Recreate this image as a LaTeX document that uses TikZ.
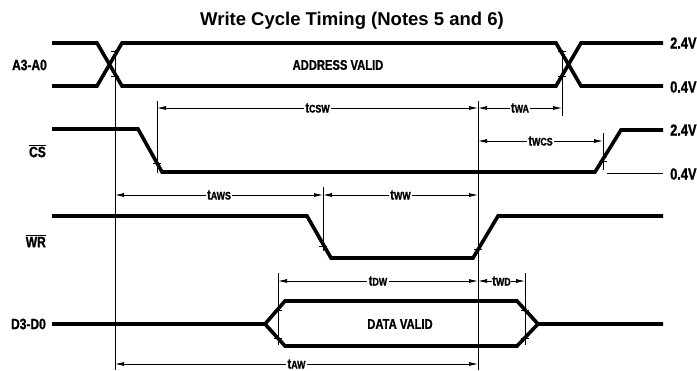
\documentclass[tikz,border=0pt]{standalone}
\usepackage{fontspec}
\setmainfont{Liberation Sans}
\newfontfamily\condfont[FakeStretch=0.8, BoldFeatures={FakeBold=1.2}]{Liberation Sans}
\usetikzlibrary{arrows.meta}
\newcommand{\tsub}[1]{t{\fontsize{11}{11}\selectfont #1}}
\tikzset{
  sig/.style={line width=3.6pt, line join=miter, line cap=butt},
  thin/.style={line width=0.8pt},
  dim/.style={line width=0.8pt, {Latex[length=9pt,width=4pt]}-{Latex[length=9pt,width=4pt]}},
  lab/.style={font=\condfont\bfseries\fontsize{14}{14}\selectfont, fill=white, inner sep=1.5pt},
  sname/.style={font=\condfont\bfseries\fontsize{15}{15}\selectfont, anchor=east, inner sep=0pt},
  volt/.style={font=\condfont\bfseries\fontsize{16}{16}\selectfont, anchor=west, inner sep=0pt},
  txt/.style={font=\condfont\bfseries\fontsize{14}{14}\selectfont, inner sep=0pt},
  tick/.style={line width=0.9pt}
}
\begin{document}
\begin{tikzpicture}[x=1pt,y=-1pt]
\useasboundingbox (0,0) rectangle (697,370);
% title
\node[font=\bfseries\fontsize{18.5}{18.5}\selectfont, inner sep=0pt] (title) at (352,21) {Write Cycle Timing (Notes 5 and 6)};
% signal names
\node[sname] (nA) at (47,65) {A3-A0};
\node[sname] (nCS) at (46,151) {$\overline{\mbox{\condfont\bfseries\fontsize{15}{15}\selectfont CS}}$};
\node[sname] (nWR) at (46,241) {$\overline{\mbox{\condfont\bfseries\fontsize{15}{15}\selectfont WR}}$};
\node[sname] (nD) at (46,324) {D3-D0};
% voltage labels
\node[volt] (v1) at (670,43) {2.4V};
\node[volt] (v2) at (670,87) {0.4V};
\node[volt] (v3) at (670,130) {2.4V};
\node[volt] (v4) at (670,174) {0.4V};
% signal A
\draw[sig] (52,43) -- (97,43) -- (122,86) -- (556,86) -- (581,43) -- (663,43);
\draw[sig] (52,86) -- (97,86) -- (122,43) -- (556,43) -- (581,86) -- (663,86);
\node[txt] (addr) at (338,65) {ADDRESS VALID};
% signal CS
\draw[sig] (52,129) -- (138,129) -- (162,172) -- (595,172) -- (621,130) -- (663,130);
\coordinate (l04a) at (607,173);
\coordinate (l04b) at (663,173);
\draw[thin] (l04a) -- (l04b);
% signal WR
\draw[sig] (52,216) -- (307,216) -- (331,258) -- (473,258) -- (498,216) -- (663,216);
% signal D
\draw[sig] (52,324) -- (265,324) -- (285,301) -- (517,301) -- (538,324) -- (663,324);
\draw[sig] (265,324) -- (285,346) -- (517,346) -- (538,324);
\node[txt] (data) at (400,324) {DATA VALID};
% reference verticals
\coordinate (r1t) at (115,50);  \coordinate (r1b) at (115,370);
\coordinate (r2t) at (562,50);  \coordinate (r2b) at (562,116);
\coordinate (r3t) at (157,101); \coordinate (r3b) at (157,173);
\coordinate (r4t) at (478,101); \coordinate (r4b) at (478,370);
\coordinate (r5t) at (603,133); \coordinate (r5b) at (603,170);
\coordinate (r6t) at (323,187); \coordinate (r6b) at (323,251);
\coordinate (r7t) at (278,273); \coordinate (r7b) at (278,345);
\coordinate (r8t) at (525,273); \coordinate (r8b) at (525,345);
\foreach \t/\b in {r1t/r1b,r2t/r2b,r3t/r3b,r4t/r4b,r5t/r5b,r6t/r6b,r7t/r7b,r8t/r8b}
  \draw[thin] (\t) -- (\b);
% ticks
\foreach \x/\y in {115/51,115/76,562/51,562/76,157/163,603/161,323/246,478/249,278/310,278/338,525/310,525/338}
  \draw[tick] (\x-4,\y) -- (\x+4,\y);
% dimension arrows
\coordinate (a1) at (157,108); \coordinate (a2) at (478,108); \coordinate (a3) at (562,108);
\draw[dim] (a1) -- node[lab] (tcsw) {\tsub{CSW}} (a2);
\draw[dim] (a2) -- node[lab] (twa) {\tsub{WA}} (a3);
\coordinate (b1) at (478,141); \coordinate (b2) at (603,141);
\draw[dim] (b1) -- node[lab] (twcs) {\tsub{WCS}} (b2);
\coordinate (c1) at (115,195); \coordinate (c2) at (323,195); \coordinate (c3) at (478,195);
\draw[dim] (c1) -- node[lab] (taws) {\tsub{AWS}} (c2);
\draw[dim] (c2) -- node[lab] (tww) {\tsub{WW}} (c3);
\coordinate (d1) at (278,281); \coordinate (d2) at (478,281); \coordinate (d3) at (525,281);
\draw[dim] (d1) -- node[lab] (tdw) {\tsub{DW}} (d2);
\draw[dim] (d2) -- node[lab,inner sep=0.3pt] (twd) {\tsub{WD}} (d3);
\coordinate (e1) at (115,364); \coordinate (e2) at (478,364);
\draw[dim] (e1) -- node[lab] (taw) {\tsub{AW}} (e2);
\end{tikzpicture}
\end{document}
